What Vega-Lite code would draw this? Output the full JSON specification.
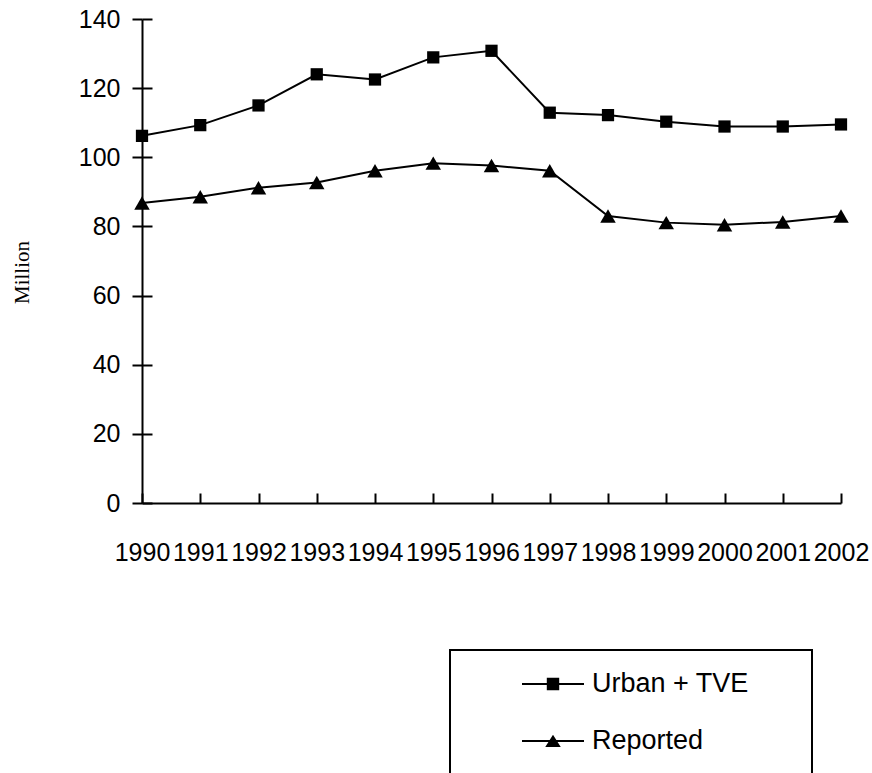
{
  "$schema": "https://vega.github.io/schema/vega-lite/v6.json",
  "width": 699,
  "height": 484,
  "autosize": {"type": "none"},
  "padding": {"left": 142, "top": 19, "right": 31, "bottom": 270},
  "background": "white",
  "data": {
    "values": [
      {"year": 1990, "series": "Urban + TVE", "value": 106.2},
      {"year": 1991, "series": "Urban + TVE", "value": 109.3},
      {"year": 1992, "series": "Urban + TVE", "value": 115.0},
      {"year": 1993, "series": "Urban + TVE", "value": 124.0},
      {"year": 1994, "series": "Urban + TVE", "value": 122.5},
      {"year": 1995, "series": "Urban + TVE", "value": 128.9},
      {"year": 1996, "series": "Urban + TVE", "value": 130.8},
      {"year": 1997, "series": "Urban + TVE", "value": 112.9},
      {"year": 1998, "series": "Urban + TVE", "value": 112.2},
      {"year": 1999, "series": "Urban + TVE", "value": 110.3},
      {"year": 2000, "series": "Urban + TVE", "value": 108.9},
      {"year": 2001, "series": "Urban + TVE", "value": 108.9},
      {"year": 2002, "series": "Urban + TVE", "value": 109.5},
      {"year": 1990, "series": "Reported", "value": 86.8},
      {"year": 1991, "series": "Reported", "value": 88.6},
      {"year": 1992, "series": "Reported", "value": 91.2},
      {"year": 1993, "series": "Reported", "value": 92.7},
      {"year": 1994, "series": "Reported", "value": 96.1},
      {"year": 1995, "series": "Reported", "value": 98.3},
      {"year": 1996, "series": "Reported", "value": 97.6},
      {"year": 1997, "series": "Reported", "value": 96.1},
      {"year": 1998, "series": "Reported", "value": 83.0},
      {"year": 1999, "series": "Reported", "value": 81.1},
      {"year": 2000, "series": "Reported", "value": 80.5},
      {"year": 2001, "series": "Reported", "value": 81.3},
      {"year": 2002, "series": "Reported", "value": 83.0}
    ]
  },
  "layer": [
    {
      "mark": {"type": "line", "color": "black", "strokeWidth": 2},
      "encoding": {
        "x": {
          "field": "year", "type": "quantitative",
          "scale": {"domain": [1990, 2002], "nice": false, "zero": false},
          "axis": {
            "values": [1990, 1991, 1992, 1993, 1994, 1995, 1996, 1997, 1998, 1999, 2000, 2001, 2002],
            "format": "d", "title": null, "tickSize": -10, "labelPadding": 67,
            "labelBaseline": "alphabetic", "labelOverlap": false, "labelFlush": false,
            "labelFontSize": 25
          }
        },
        "y": {
          "field": "value", "type": "quantitative",
          "scale": {"domain": [0, 140], "nice": false},
          "axis": {
            "values": [0, 20, 40, 60, 80, 100, 120, 140],
            "title": "Million", "titleFont": "Liberation Serif", "titleFontSize": 21,
            "titleFontWeight": "normal", "titleX": -120, "titleY": 253,
            "titleAlign": "center", "titleBaseline": "middle", "titleAngle": -90,
            "tickSize": 10, "labelPadding": 12, "labelOverlap": false, "labelFontSize": 25
          }
        },
        "detail": {"field": "series"}
      }
    },
    {
      "mark": {"type": "point", "filled": true, "color": "black", "opacity": 1, "strokeWidth": 0},
      "encoding": {
        "x": {"field": "year", "type": "quantitative"},
        "y": {
          "field": "value", "type": "quantitative",
          "axis": {
            "orient": "left", "offset": -10, "tickSize": 10, "labels": false,
            "domain": false, "title": null, "values": [0, 20, 40, 60, 80, 100, 120, 140]
          }
        },
        "shape": {
          "field": "series", "type": "nominal",
          "scale": {"domain": ["Urban + TVE", "Reported"], "range": ["square", "triangle-up"]},
          "legend": null
        },
        "size": {
          "field": "series", "type": "nominal",
          "scale": {"domain": ["Urban + TVE", "Reported"], "range": [150, 240]},
          "legend": null
        }
      }
    },
    {
      "mark": {"type": "point", "filled": true, "color": "black", "opacity": 0},
      "encoding": {
        "x": {"field": "year", "type": "quantitative"},
        "y": {"field": "value", "type": "quantitative", "axis": null},
        "shape": {
          "field": "series", "type": "nominal",
          "scale": {
            "domain": ["Urban + TVE", "Reported"],
            "range": [
              "M8.25,0M-1,-0.033H1V0.033H-1ZM-0.2,-0.2H0.2V0.2H-0.2Z",
              "M8.25,0M0,1.3M-1,-0.033H1V0.033H-1ZM0,-0.2L0.25,0.19H-0.25Z"
            ]
          },
          "legend": {
            "title": null, "orient": "none", "legendX": 308, "legendY": 631,
            "padding": 3, "strokeColor": "black", "fillColor": "white",
            "symbolSize": 3844, "symbolOpacity": 1, "symbolFillColor": "black",
            "symbolStrokeWidth": 0, "symbolOffset": 69,
            "labelFont": "Liberation Sans", "labelFontSize": 27, "labelColor": "black",
            "labelOffset": 8, "labelLimit": 400, "rowPadding": 13
          }
        }
      }
    }
  ],
  "resolve": {"scale": {"shape": "independent", "size": "independent"}, "axis": {"y": "independent"}},
  "config": {
    "font": "Liberation Sans",
    "view": {"stroke": null},
    "axis": {
      "grid": false, "domainColor": "black", "domainWidth": 2, "tickColor": "black",
      "tickWidth": 2, "labelColor": "black", "labelFont": "Liberation Sans", "titleColor": "black"
    },
    "legend": {"strokeWidth": 2}
  }
}
